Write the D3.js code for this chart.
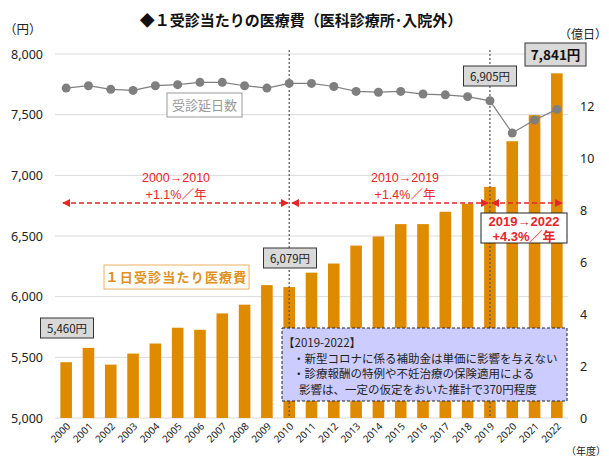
<!DOCTYPE html>
<html><head><meta charset="utf-8">
<script src="https://cdn.jsdelivr.net/npm/d3@7"></script>
<style>
body{margin:0;background:#fff;}
svg{display:block;font-family:"Noto Sans CJK JP","Noto Sans",sans-serif;}
</style></head><body>
<svg id="chart" width="609" height="464"></svg>
<script>
const years = ["2000","2001","2002","2003","2004","2005","2006","2007","2008","2009","2010","2011","2012","2013","2014","2015","2016","2017","2018","2019","2020","2021","2022"];
const costPerDay = [5460,5578,5440,5531,5614,5744,5727,5862,5934,6095,6079,6198,6273,6421,6496,6598,6598,6700,6766,6905,7281,7496,7841];
const visitDays = [12.69,12.78,12.64,12.60,12.78,12.82,12.91,12.91,12.78,12.69,12.87,12.87,12.75,12.56,12.53,12.56,12.46,12.43,12.36,12.20,10.96,11.46,11.87];
const leftTicks = [5000,5500,6000,6500,7000,7500,8000];
const rightTicks = [0,2,4,6,8,10,12];
const labelled = [{year:"2000",text:"5,460円"},{year:"2010",text:"6,079円"},{year:"2019",text:"6,905円"}];

const svg = d3.select("#chart");
const x = d3.scaleBand().domain(years).range([55,568]).paddingInner(0.48).paddingOuter(0.24);
const yL = d3.scaleLinear().domain([5000,8000]).range([418,54]);
const yR = d3.scaleLinear().domain([0,14]).range([418,54]);
const cx = d => x(d) + x.bandwidth()/2;
const red = "#e5262a";
const latin = "'Liberation Sans','Noto Sans CJK JP',sans-serif";

// gridlines
svg.append("g").selectAll("line").data(leftTicks).join("line")
  .attr("x1",55).attr("x2",568).attr("y1",d=>yL(d)).attr("y2",d=>yL(d))
  .attr("stroke","#d9d9d9").attr("stroke-width",1);

// left axis
const axL = svg.append("g").attr("transform","translate(50,0)")
  .call(d3.axisLeft(yL).tickValues(leftTicks).tickFormat(d3.format(",")).tickSize(0).tickPadding(7));
axL.select(".domain").remove();
axL.selectAll("text").attr("font-size",12.5).attr("fill","#222").attr("font-family","'Noto Sans','DejaVu Sans',sans-serif");

// right axis
const axR = svg.append("g").attr("transform","translate(580,0)")
  .call(d3.axisRight(yR).tickValues(rightTicks).tickSize(0).tickPadding(0));
axR.select(".domain").remove();
axR.selectAll("text").attr("font-size",12.5).attr("fill","#222").attr("font-family","'Noto Sans','DejaVu Sans',sans-serif");

// bars
svg.append("g").selectAll("rect").data(years).join("rect")
  .attr("x",d=>x(d)).attr("width",x.bandwidth())
  .attr("y",(d,i)=>yL(costPerDay[i])).attr("height",(d,i)=>418-yL(costPerDay[i]))
  .attr("fill","#df8b00");

// x labels
svg.append("g").selectAll("text").data(years).join("text")
  .attr("transform",d=>`translate(${cx(d)+5},${427}) rotate(-45)`)
  .attr("text-anchor","end").attr("font-size",10).attr("fill","#222")
  .attr("font-family","'Noto Sans','DejaVu Sans',sans-serif").text(d=>d);

// dotted vertical lines
svg.append("g").selectAll("line").data(["2010","2019"]).join("line")
  .attr("x1",d=>cx(d)).attr("x2",d=>cx(d)).attr("y1",50).attr("y2",418)
  .attr("stroke","#555").attr("stroke-width",1.2).attr("stroke-dasharray","2,2");

// line series
const line = d3.line().x((d,i)=>cx(years[i])).y(d=>yR(d));
svg.append("path").datum(visitDays).attr("d",line).attr("fill","none").attr("stroke","#7f7f7f").attr("stroke-width",1.2);
svg.append("g").selectAll("circle").data(visitDays).join("circle")
  .attr("cx",(d,i)=>cx(years[i])).attr("cy",d=>yR(d)).attr("r",4.5).attr("fill","#7f7f7f");

// title & unit labels
svg.append("text").attr("x",301).attr("y",26).attr("text-anchor","middle")
  .attr("font-size",15).attr("font-weight","bold").attr("fill","#111")
  .text("◆１受診当たりの医療費（医科診療所･入院外）");
svg.append("text").attr("x",8).attr("y",34).attr("font-size",12.5).attr("fill","#222").text("（円）").attr("dx",-4);
svg.append("text").attr("x",607).attr("y",39).attr("text-anchor","end").attr("font-size",12).attr("fill","#222").text("（億日）");
svg.append("text").attr("x",606).attr("y",455).attr("text-anchor","end").attr("font-size",10).attr("fill","#222").text("（年度）");

// series label boxes
svg.append("rect").attr("x",167).attr("y",93).attr("width",75).attr("height",24).attr("fill","#fff").attr("stroke","#999");
svg.append("text").attr("x",204.5).attr("y",110).attr("text-anchor","middle").attr("font-size",13).attr("fill","#999").text("受診延日数");

svg.append("rect").attr("x",104).attr("y",265).attr("width",145).attr("height",24).attr("fill","#fff").attr("stroke","#f0b060");
svg.append("text").attr("x",176.5).attr("y",282).attr("text-anchor","middle").attr("font-size",13).attr("font-weight","bold")
  .attr("letter-spacing",1.2).attr("fill","#e09020").text("１日受診当たり医療費");

// value labels
const vl = svg.append("g");
const boxPos = {"2000":[67,318],"2010":[290,248],"2019":[490,66]};
labelled.forEach(l=>{
  const [xc,yb] = boxPos[l.year];
  vl.append("rect").attr("x",xc-26.5).attr("y",yb).attr("width",53).attr("height",20).attr("fill","#d9d9d9").attr("stroke","#333");
  vl.append("text").attr("x",xc).attr("y",yb+14.5).attr("text-anchor","middle").attr("font-size",11.5).attr("fill","#222").text(l.text);
});
vl.append("rect").attr("x",525).attr("y",43).attr("width",61).attr("height",23).attr("fill","#d9d9d9").attr("stroke","#333");
vl.append("text").attr("x",555.5).attr("y",60).attr("text-anchor","middle").attr("font-size",13.5).attr("font-weight","bold").attr("fill","#111").text(costPerDay[22].toLocaleString("en-US")+"円");

// arrows
const defs = svg.append("defs");
defs.append("marker").attr("id","ah").attr("viewBox","0 0 10 10").attr("refX",9).attr("refY",5)
  .attr("markerWidth",8).attr("markerHeight",8).attr("orient","auto-start-reverse").attr("markerUnits","userSpaceOnUse")
  .append("path").attr("d","M0,0 L10,5 L0,10 Z").attr("fill",red);
const arrows = [[63,288],[292,488],[492,562]];
svg.append("g").selectAll("line").data(arrows).join("line")
  .attr("x1",d=>d[0]).attr("x2",d=>d[1]).attr("y1",203).attr("y2",203)
  .attr("stroke",red).attr("stroke-width",1.5).attr("stroke-dasharray","5,3")
  .attr("marker-start","url(#ah)").attr("marker-end","url(#ah)");

const rateTexts = [["2000→2010",176,182],["+1.1%／年",176,199],["2010→2019",405,182],["+1.4%／年",405,199]];
svg.append("g").selectAll("text").data(rateTexts).join("text")
  .attr("x",d=>d[1]).attr("y",d=>d[2]).attr("text-anchor","middle").attr("font-size",12.5)
  .attr("font-family",latin).attr("fill",red).text(d=>d[0]);

svg.append("rect").attr("x",481).attr("y",213).attr("width",86).attr("height",30).attr("fill","#fff").attr("stroke","#222");
svg.append("text").attr("x",524).attr("y",226).attr("text-anchor","middle").attr("font-size",13).attr("font-weight","bold")
  .attr("font-family",latin).attr("fill",red).text("2019→2022");
svg.append("text").attr("x",524).attr("y",240.5).attr("text-anchor","middle").attr("font-size",13).attr("font-weight","bold")
  .attr("font-family",latin).attr("fill",red).text("+4.3%／年");

// note box
svg.append("rect").attr("x",282).attr("y",328).attr("width",285).attr("height",73)
  .attr("fill","#ccccff").attr("stroke","#222").attr("stroke-dasharray","3,2");
const notes = [["【2019-2022】",283,347],["・新型コロナに係る補助金は単価に影響を与えない",293,363],["・診療報酬の特例や不妊治療の保険適用による",293,378],["影響は、一定の仮定をおいた推計で370円程度",299,394]];
svg.append("g").selectAll("text").data(notes).join("text")
  .attr("x",d=>d[1]).attr("y",d=>d[2]).attr("font-size",11.5).attr("fill","#222").text(d=>d[0]);
</script>
</body></html>
